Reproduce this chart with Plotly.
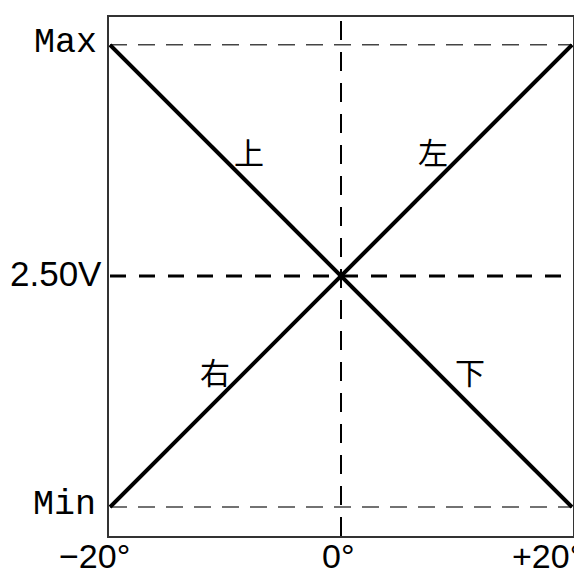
import plotly.graph_objects as go

# angle ends of the two output lines (degrees)
angle = [-20, 20]
# normalised output: 0 = Min, 0.5 = 2.50V, 1 = Max
out_falling = [1, 0]
out_rising = [0, 1]

y_levels = [0, 0.5, 1]
y_labels = ["Min", "2.50V", "Max"]
x_ticks = [-20, 0, 20]
x_labels = ["−20°", "0°", "+20°"]
dir_labels = ["上", "左", "右", "下"]

fig = go.Figure()
fig.add_trace(go.Scatter(x=angle, y=out_falling, mode="lines",
                         line=dict(color="black", width=4), hoverinfo="skip"))
fig.add_trace(go.Scatter(x=angle, y=out_rising, mode="lines",
                         line=dict(color="black", width=4), hoverinfo="skip"))

# reference lines
fig.add_shape(type="line", x0=angle[0], x1=angle[1], y0=y_levels[2], y1=y_levels[2],
              line=dict(color="#444", width=1.5, dash="17px,11px"), layer="below")
fig.add_shape(type="line", x0=angle[0], x1=angle[1], y0=y_levels[0], y1=y_levels[0],
              line=dict(color="#444", width=1.5, dash="17px,11px"), layer="below")
fig.add_shape(type="line", x0=angle[0], x1=angle[1], y0=y_levels[1], y1=y_levels[1],
              line=dict(color="black", width=3, dash="16px,13px"), layer="below")
fig.add_shape(type="line", x0=x_ticks[1], x1=x_ticks[1], y0=0, y1=1, yref="paper",
              line=dict(color="black", width=2, dash="19px,12px"), layer="below")

# y labels (left of the frame)
mono = dict(family="Liberation Mono", size=35, color="black")
sans = dict(family="Liberation Sans, Arial", size=35, color="black")
y_shift = {"Min": -11, "2.50V": -5, "Max": -10}
for v, t in zip(y_levels, y_labels):
    fig.add_annotation(x=0, xref="paper", y=v, yref="y", text=t, showarrow=False,
                       xanchor="right", yanchor="middle", xshift=y_shift[t], yshift=2,
                       font=mono if t in ("Min", "Max") else sans)

# x labels (below the frame)
x_shift = [-16, -3, -25]
for xp, s, t in zip(x_ticks, x_shift, x_labels):
    fig.add_annotation(x=xp, y=0, yref="paper", text=t, showarrow=False,
                       xanchor="center", yanchor="top", xshift=s, yshift=1,
                       font=dict(family="Liberation Sans, Arial", size=34, color="black"))

# direction labels
dir_pos = [(-8.0, 0.77), (8.0, 0.77), (-10.9, 0.295), (11.2, 0.295)]
for (xp, yp), t in zip(dir_pos, dir_labels):
    fig.add_annotation(x=xp, y=yp, text=t, showarrow=False,
                       font=dict(family="Noto Sans CJK JP", size=30, color="black"))

axis_style = dict(showgrid=False, zeroline=False, showticklabels=False, ticks="",
                  showline=True, mirror=True, linecolor="#333", linewidth=2)
fig.update_xaxes(range=[-20.087, 20.087], **axis_style)
fig.update_yaxes(range=[-0.0625, 1.0603], **axis_style)

# page body adds an 8px margin, so the figure is sized to fit inside it
fig.update_layout(width=574, height=564, margin=dict(l=101, r=9, t=7, b=36),
                  plot_bgcolor="white", paper_bgcolor="white", showlegend=False)

fig.write_html("out.html")
